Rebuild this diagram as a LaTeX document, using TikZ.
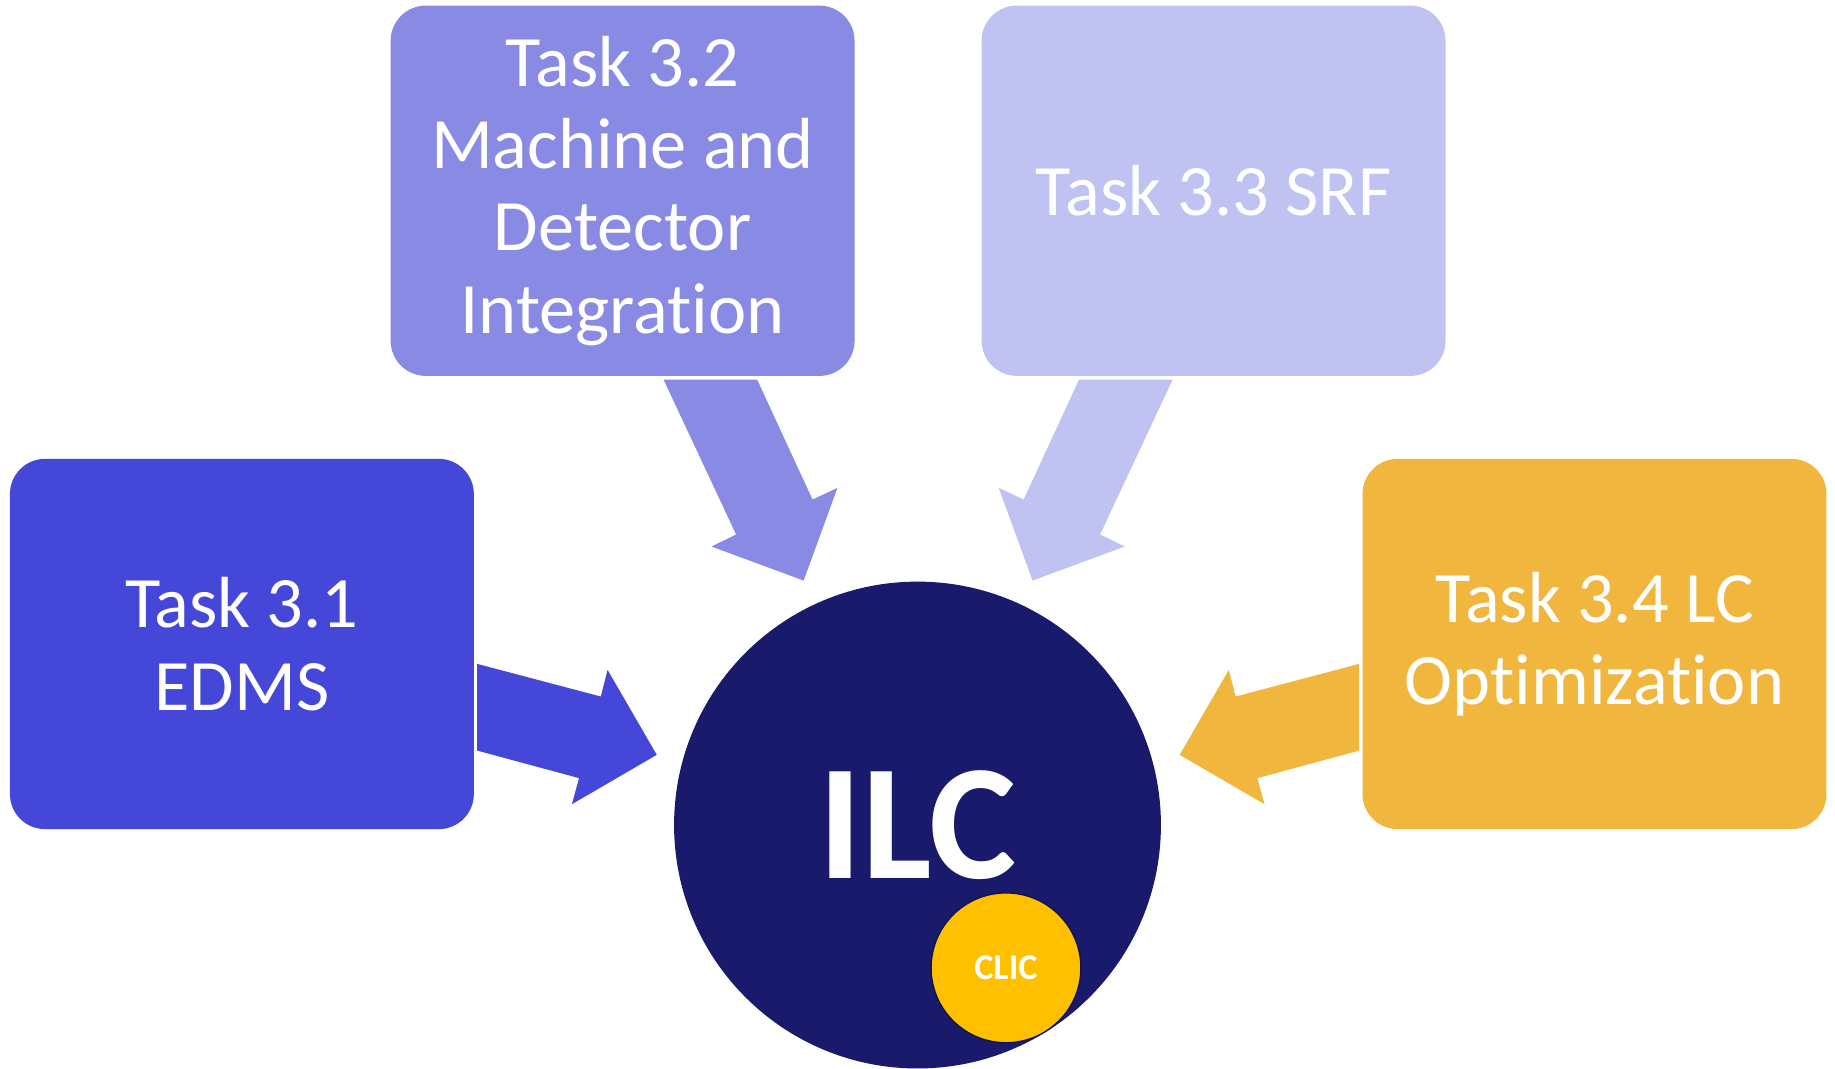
\documentclass[tikz,border=0pt]{standalone}
\usepackage{fontspec}
\setmainfont{Carlito}[Ligatures=NoCommon]
\usepackage{tikz}
\usetikzlibrary{positioning}
\definecolor{taskone}{RGB}{68,71,216}
\definecolor{tasktwo}{RGB}{137,138,228}
\definecolor{taskthree}{RGB}{192,194,241}
\definecolor{taskfour}{RGB}{241,182,62}
\definecolor{ilcblue}{RGB}{25,26,107}
\definecolor{clicgold}{RGB}{255,192,0}
\tikzset{
  taskbox/.style={rectangle, rounded corners=7.5mm, minimum width=99.1mm,
    minimum height=79.1mm, inner sep=0pt, align=center, text=white,
    font=\fontsize{44}{50}\selectfont},
}

\begin{document}
\begin{tikzpicture}[x=0.25mm,y=-0.25mm]
        \useasboundingbox (0,0) rectangle (1568,913);
        \node[taskbox, fill=taskone] (t31) at (206.7,550.3) {Task 3.1\\EDMS};
        \node[taskbox, fill=tasktwo] (t32) at (532,163) {Task 3.2\\Machine and\\Detector\\Integration};
        \node[taskbox, fill=taskthree] (t33) at (1037,163) {Task 3.3 SRF};
        \node[taskbox, fill=taskfour] (t34) at (1362.5,550.3) {Task 3.4 LC\\Optimization};
        \node[circle, fill=ilcblue, minimum size=104mm, inner sep=0pt, text=white,
          font=\bfseries\fontsize{100}{100}\selectfont] (ilc) at (784,705) {ILC};
        \node[circle, fill=clicgold, draw=ilcblue!70!black, line width=0.8pt,
          minimum size=32mm, inner sep=0pt, text=white,
          font=\bfseries\fontsize{22}{22}\selectfont] (clic) at (859.6,827) {CLIC};
        \fill[taskone] ([shift={(2.6,17)}]t31.east) -- ++(105.6,27.9) -- ++(5.8,-22.8)
          -- ++(42,72.6) -- ++(-72.5,42.2) -- ++(6.1,-22.3) -- ++(-87,-23.5) -- cycle;
        \fill[tasktwo] ([shift={(35,2.9)}]t32.south) -- ++(80,0) -- ++(47.3,102.5)
          -- ++(21.3,-10) -- ++(-28.9,79.2) -- ++(-78.8,-29.1) -- ++(21.1,-10.2) -- cycle;
        \fill[taskthree] ([shift={(-35,2.9)}]t33.south) -- ++(-80,0) -- ++(-47.3,102.5)
          -- ++(-21.3,-10) -- ++(28.9,79.2) -- ++(78.8,-29.1) -- ++(-21.1,-10.2) -- cycle;
        \fill[taskfour] ([shift={(-2.6,17)}]t34.west) -- ++(-105.6,27.9) -- ++(-5.8,-22.8)
          -- ++(-42,72.6) -- ++(72.5,42.2) -- ++(-6.1,-22.3) -- ++(87,-23.5) -- cycle;
\end{tikzpicture}
\end{document}
